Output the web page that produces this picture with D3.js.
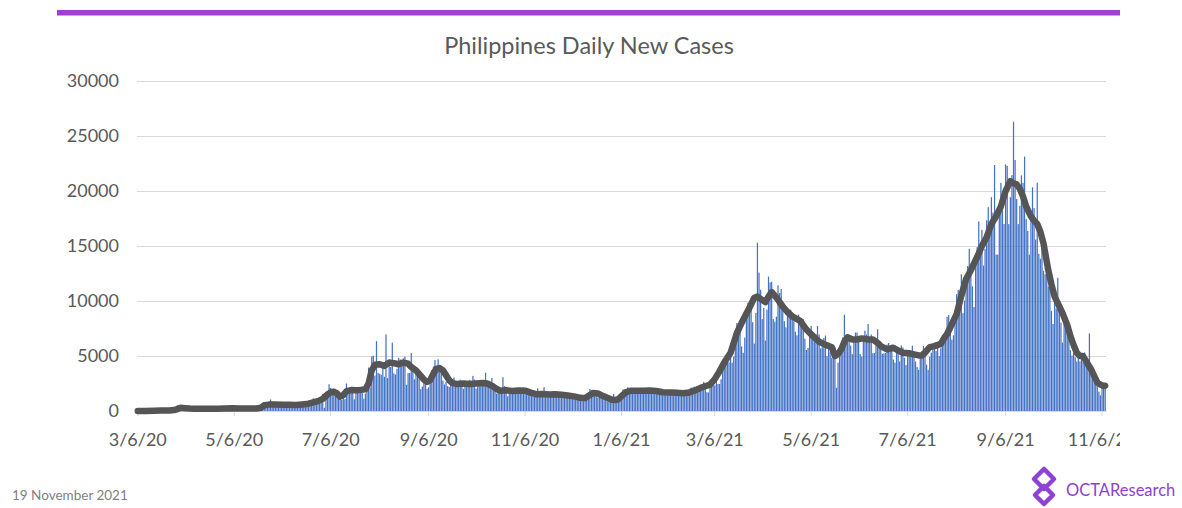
<!DOCTYPE html>
<html>
<head>
<meta charset="utf-8">
<script src="https://cdn.jsdelivr.net/npm/d3@7"></script>
<style>
  html, body { margin: 0; padding: 0; background: #ffffff; }
  svg { display: block; font-family: Lato, "Open Sans", sans-serif; }
</style>
</head>
<body>
<svg id="chart" width="1182" height="508"></svg>
<script>
// ---------------- data ----------------
const chartTitle = "Philippines Daily New Cases";
const firstDay = "2020-03-06";

// daily new cases, one value per day starting 3/6/20
const dailyCases = [
  // Mar 2020 (from Mar 6)
  0,1,4,14,9,16,3,12,47,29,47,15,15,13,77,73,82,40,51,84,71,96,272,343,128,538,
  // Apr 2020
  227,322,385,76,152,414,104,106,206,119,233,220,284,291,230,207,218,209,172,200,140,111,271,211,102,285,198,181,254,276,
  // May 2020
  284,156,295,262,199,320,339,120,147,184,292,264,268,258,215,214,208,205,224,279,213,163,380,539,620,512,480,539,1046,862,590,
  // Jun 2020
  552,359,634,751,634,714,555,579,518,740,450,636,386,530,490,657,575,545,706,870,720,560,668,803,1150,1006,1000,653,985,1080,
  // Jul 2020
  1531,294,1531,1531,2434,2099,1540,1545,1540,1392,1387,1525,1003,1279,1078,2498,1841,2103,1713,1819,1063,1783,1909,2200,1987,1678,1120,1599,1874,3954,2144,
  // Aug 2020
  4963,5032,3226,6352,3462,3379,3294,4226,3109,6958,2987,4444,4002,6216,3420,3314,3841,4836,4690,4650,4786,4933,2378,3444,3449,5277,3637,2885,3372,3314,3446,
  // Sep 2020
  1987,2218,2862,2612,2027,2163,3281,3712,4040,4634,3821,4699,3962,3544,2765,2410,2646,2257,2180,2604,2631,3035,2410,2180,2632,2846,2417,2025,2633,2291,
  // Oct 2020
  2590,2825,2291,3190,2859,2025,2544,2738,2294,2559,2379,3475,2300,2601,2441,3012,2136,2236,1585,1751,1993,2019,3075,2260,1772,1333,1990,1575,1651,1923,1895,
  // Nov 2020
  1843,1717,1719,2023,2132,2076,1672,1541,1533,1610,1361,1553,1476,2074,1442,1381,1343,2164,1682,1486,1428,1287,1405,1665,1390,1449,1477,1731,1321,1270,
  // Dec 2020
  1320,1436,1389,1401,1203,1287,1135,1151,1054,1211,1260,1134,1085,994,1184,1588,2003,1868,1775,1722,1546,1236,1325,1489,1240,1074,992,895,1027,1136,872,
  // Jan 2021
  1541,1123,887,1047,1283,1664,1967,1928,1957,2163,1781,1758,1838,1843,1902,1967,1874,1776,1553,1797,1844,1958,1805,1860,1592,1717,1804,2034,1701,1648,1591,
  // Feb 2021
  1666,1553,1608,1799,1736,1626,1612,1399,1509,1672,1688,1516,1585,1615,1714,1521,1673,1935,2124,2042,2211,1884,2010,2050,2261,2423,2651,2113,
  // Mar 2021
  1712,1682,2452,2764,3045,2321,3439,2452,2452,2886,3749,4578,5000,5124,4437,5404,4387,4942,7103,7999,7757,8019,5867,5290,6666,8773,9838,9595,10016,8075,6128,
  // Apr 2021
  8920,15310,12576,11028,8355,9373,6414,9216,12225,11681,11749,8355,8122,8571,11429,10726,11101,9227,8162,7603,9227,8767,9216,8681,8162,7216,6881,8763,8162,8048,
  // May 2021
  8346,6575,5545,5740,7255,7733,6637,6846,6979,7733,6962,5685,5983,6634,6858,4990,5979,5384,4843,6026,5790,2113,4398,4985,5596,6695,8748,6521,6953,6514,5940,
  // Jun 2021
  5166,6454,7129,7140,6686,5166,4939,6515,7302,6961,7919,6538,6959,5249,5271,6637,7425,6221,5875,5196,5249,5270,6043,6184,5660,6010,4677,4402,5360,5786,
  // Jul 2021
  4509,5966,5786,4845,4176,5023,5041,5329,5930,5393,4506,4010,3742,4810,5411,5906,5540,4214,3742,4920,5309,6040,6216,5466,6112,4993,5713,6899,6739,7249,8562,
  // Aug 2021
  8735,7171,6479,6879,8562,10623,11021,10310,12429,8900,10035,12439,13177,14749,12997,11332,9451,13573,14895,17231,15299,16472,13216,14749,17332,18528,16447,19441,18039,22366,14216,
  // Sep 2021
  14216,18528,20741,18802,17000,22415,22282,16989,19439,21441,26303,22820,19271,16989,18651,21411,20745,23134,17449,16361,14218,17411,20336,18449,15592,20755,14286,13846,16361,12751,
  // Oct 2021
  12438,13279,11314,12025,9106,7909,11008,9313,12113,9893,8041,6225,7986,7722,7181,6506,5534,5041,5306,4891,4495,5097,4512,4726,4460,5324,4884,4313,7044,3756,2902,
  // Nov 2021
  2601,3055,2435,1767,1427,2303,2182,2505
];

// 7-day average line (day number since 3/6/20, value)
const avgDay = [0,5,10,15,20,23,25,27,30,33,36,40,45,50,55,60,65,70,75,78,80,83,87,92,96,100,104,108,111,114,117,120,122,124,126,128,130,132,135,138,141,144,146,148,150,153,156,159,162,165,168,171,173,176,179,181,183,185,187,189,191,193,195,197,199,202,206,210,214,218,221,224,227,229,233,237,241,245,249,252,256,260,264,268,272,276,280,283,286,288,291,294,297,300,302,304,306,309,312,316,320,324,328,332,337,341,345,349,352,356,359,362,365,368,371,375,379,383,387,390,392,394,397,399,401,404,408,411,414,419,423,428,431,434,439,441,443,445,447,449,452,455,458,462,465,468,470,474,478,481,484,488,491,494,496,498,501,504,508,510,512,515,518,521,524,527,531,534,537,540,543,546,549,552,554,556,558,560,562,565,567,569,571,573,576,578,580,583,585,588,590,592,594,596,598,600,603,605,607,609,611,612];
const avgValue = [5,10,25,35,55,90,170,290,260,230,210,210,200,210,220,240,230,225,230,300,520,580,600,570,560,540,600,660,780,900,1100,1500,1700,1750,1600,1300,1450,1800,1900,1880,1920,1980,2500,3700,4200,4250,4100,4400,4350,4250,4400,4300,4000,3700,3200,2850,2650,2800,3400,3850,3900,3700,3250,2800,2550,2450,2500,2450,2500,2550,2500,2300,2000,1850,1880,1820,1870,1850,1650,1530,1550,1500,1520,1470,1400,1330,1200,1170,1450,1630,1600,1380,1200,1020,1000,1070,1350,1720,1850,1850,1830,1860,1820,1700,1690,1650,1620,1690,1850,2100,2250,2400,2900,3600,4400,5300,7100,8300,9400,10300,10400,10200,9900,10400,10800,10300,9500,9000,8600,8200,7400,6700,6300,6100,5800,5000,5200,5600,6300,6700,6500,6500,6600,6500,6500,6200,5900,5600,5750,5500,5300,5250,5150,5050,5050,5300,5800,5900,6100,6600,7000,7900,8800,10500,12000,12800,14000,15000,15800,17000,17700,18600,20000,20900,20700,20600,20200,19500,18600,17700,17300,17000,16300,15200,12800,11500,10400,9500,8900,7800,6800,6000,5300,5000,5000,4500,3800,3200,2600,2400,2270,2300];

const xTickLabels = ["3/6/20","5/6/20","7/6/20","9/6/20","11/6/20","1/6/21","3/6/21","5/6/21","7/6/21","9/6/21","11/6/21"];
const yTicks = [0,5000,10000,15000,20000,25000,30000];
const footerDate = "19 November 2021";
const brand = "OCTAResearch";

// ---------------- drawing ----------------
const svg = d3.select("#chart");
const parseISO = d3.timeParse("%Y-%m-%d");
const parseTick = d3.timeParse("%m/%d/%y");
const start = parseISO(firstDay);
const dates = d3.timeDay.range(start, d3.timeDay.offset(start, dailyCases.length));
const tickDates = xTickLabels.map(parseTick);

const plot = { left: 137, right: 1106, top: 81, bottom: 411 };

const x = d3.scaleBand()
  .domain(dates)
  .range([plot.left, plot.right])
  .paddingInner(0.22)
  .paddingOuter(0.11);
const y = d3.scaleLinear().domain([0, 30000]).range([plot.bottom, plot.top]);
const cx = d => x(d) + x.bandwidth() / 2;

// top purple rule
svg.append("rect")
  .attr("x", 57).attr("y", 10).attr("width", 1063).attr("height", 5.5)
  .attr("fill", "#9b41cf");

// title
svg.append("text")
  .attr("x", 589).attr("y", 54)
  .attr("text-anchor", "middle")
  .attr("font-size", 23.5)
  .attr("fill", "#595959")
  .text(chartTitle);

// y axis with gridlines
const yAxis = svg.append("g")
  .attr("transform", `translate(${plot.left},0)`)
  .call(d3.axisLeft(y).tickValues(yTicks).tickSize(-(plot.right - plot.left)).tickPadding(18).tickFormat(d3.format("d")));
yAxis.select(".domain").remove();
yAxis.selectAll(".tick line").attr("stroke", "#d9d9d9").attr("stroke-width", 1);
yAxis.selectAll(".tick text").attr("font-size", 18).attr("fill", "#595959").attr("font-family", "Lato, sans-serif");

// x axis
const clip = svg.append("clipPath").attr("id", "xclip");
clip.append("rect").attr("x", 0).attr("y", 0).attr("width", 1120).attr("height", 508);

const xAxis = svg.append("g")
  .attr("transform", `translate(0,${plot.bottom})`)
  .attr("clip-path", "url(#xclip)")
  .call(d3.axisBottom(x).tickValues(tickDates).tickSizeInner(5).tickSizeOuter(0).tickPadding(17)
    .tickFormat((d, i) => xTickLabels[i]));
xAxis.select(".domain").attr("stroke", "#d9d9d9");
xAxis.selectAll(".tick line").attr("stroke", "#d9d9d9");
xAxis.selectAll(".tick text").attr("font-size", 18).attr("fill", "#595959").attr("font-family", "Lato, sans-serif");

// bars
svg.append("g")
  .selectAll("rect")
  .data(dailyCases)
  .join("rect")
  .attr("x", (v, i) => x(dates[i]))
  .attr("width", x.bandwidth())
  .attr("y", v => y(v))
  .attr("height", v => y(0) - y(v))
  .attr("fill", "#4472c4");

// moving average line
const line = d3.line()
  .x((v, i) => cx(dates[avgDay[i]]))
  .y(v => y(v));
svg.append("path")
  .datum(avgValue)
  .attr("d", line)
  .attr("fill", "none")
  .attr("stroke", "#555555")
  .attr("stroke-width", 6.5)
  .attr("stroke-linejoin", "round")
  .attr("stroke-linecap", "round");

// footer date
svg.append("text")
  .attr("x", 12).attr("y", 500)
  .attr("font-size", 13.5)
  .attr("fill", "#7f7f7f")
  .text(footerDate);

// logo mark: two interlocking diamonds
const logo = svg.append("g").attr("fill", "none").attr("stroke", "#8e41d2").attr("stroke-width", 4.5).attr("stroke-linejoin", "round");
logo.append("path").attr("d", "M1044,469 L1054,479 L1044,489 L1034,479 Z");
logo.append("path").attr("d", "M1044,486 L1053,495 L1044,504 L1035,495 Z");

svg.append("text")
  .attr("x", 1066).attr("y", 496)
  .attr("font-size", 16.5)
  .attr("fill", "#8e41d2")
  .text(brand);
</script>
</body>
</html>
